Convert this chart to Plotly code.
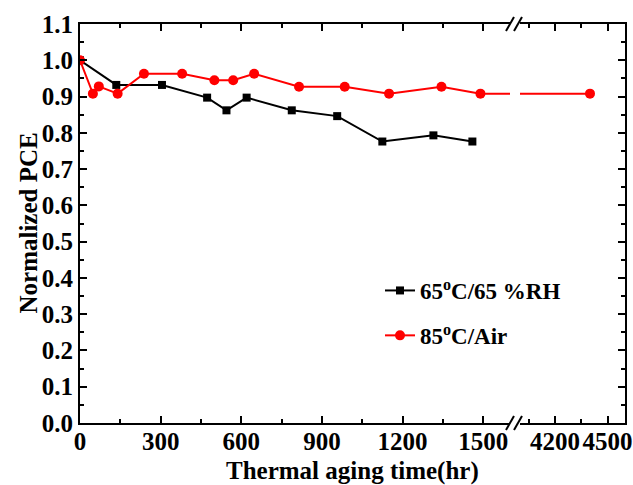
import plotly.graph_objects as go

# ---- data ----
black_x = [0, 135, 305, 473, 545, 620, 788, 957, 1125, 1315, 1460]
black_y = [1.0, 0.932, 0.932, 0.897, 0.862, 0.897, 0.862, 0.846, 0.776, 0.793, 0.776]
red_x = [0, 48, 70, 140, 238, 380, 500, 570, 648, 815, 985, 1150, 1345, 1490, 4400]
red_y = [1.0, 0.908, 0.928, 0.908, 0.963, 0.963, 0.945, 0.945, 0.963, 0.927, 0.927,
         0.908, 0.927, 0.908, 0.908]
names = ["65<sup>o</sup>C/65 %RH", "85<sup>o</sup>C/Air"]
x1_ticks = [0, 300, 600, 900, 1200, 1500]
x2_ticks = [4200, 4500]
y_ticks = [round(i * 0.1, 1) for i in range(12)]

FONT = "Liberation Serif"
W, H = 633, 485
L, R, T, B = 80, 8, 24, 62
pw = W - L - R
ph = H - T - B
seg1_end = (510 - L) / pw
seg2_start = (520 - L) / pw

fig = go.Figure()
fig.add_trace(go.Scatter(x=black_x, y=black_y, mode="lines+markers", name=names[0],
                         line=dict(color="black", width=2),
                         marker=dict(symbol="square", size=8, color="black"),
                         xaxis="x", yaxis="y", legendgroup="a"))
fig.add_trace(go.Scatter(x=red_x, y=red_y, mode="lines+markers", name=names[1],
                         line=dict(color="#ff0000", width=2),
                         marker=dict(symbol="circle", size=10, color="#ff0000"),
                         xaxis="x", yaxis="y", legendgroup="b"))
fig.add_trace(go.Scatter(x=red_x, y=red_y, mode="lines+markers", showlegend=False,
                         line=dict(color="#ff0000", width=2),
                         marker=dict(symbol="circle", size=10, color="#ff0000"),
                         xaxis="x2", yaxis="y2"))

tickfont = dict(family=FONT, size=25, color="black", weight="bold")
common_x = dict(showline=True, linecolor="black", linewidth=2, mirror="ticks",
                ticks="inside", ticklen=7, tickwidth=2, tickcolor="black",
                showgrid=False, zeroline=False, tickfont=tickfont, ticklabelstandoff=-5,
                tickangle=0, automargin=False,
                minor=dict(dtick=150, ticks="inside", ticklen=4, tickwidth=2,
                           tickcolor="black", showgrid=False))
common_y = dict(range=[0, 1.1], showline=True, linecolor="black", linewidth=2,
                ticks="inside", ticklen=7, tickwidth=2, tickcolor="black",
                showgrid=False, zeroline=False, tickfont=tickfont, automargin=False,
                tickvals=y_ticks, ticktext=[f"{v:.1f}" for v in y_ticks],
                minor=dict(dtick=0.05, ticks="inside", ticklen=4, tickwidth=2,
                           tickcolor="black", showgrid=False))

fig.update_layout(
    width=W, height=H, margin=dict(l=L, r=R, t=T, b=B),
    paper_bgcolor="white", plot_bgcolor="white",
    font=dict(family=FONT, size=23, color="black", weight="bold"),
    xaxis=dict(domain=[0, seg1_end], range=[0, 1600], tickvals=x1_ticks,
               anchor="y", **common_x),
    xaxis2=dict(domain=[seg2_start, 1], range=[4000, 4600], tickvals=x2_ticks,
                anchor="y2", **common_x),
    yaxis=dict(anchor="x", mirror=False, **common_y),
    yaxis2=dict(anchor="x2", side="right", matches="y", showticklabels=False,
                mirror=False, **common_y),
    legend=dict(x=(380 - L) / pw, y=1 - (269 - T) / ph, xanchor="left", yanchor="top",
                bgcolor="rgba(0,0,0,0)", tracegroupgap=12,
                font=dict(family=FONT, size=23, color="black", weight="bold")),
    showlegend=True,
)

# axis break marks
def brk(x0, y0):
    return dict(type="line", xref="paper", yref="paper",
                x0=x0, y0=y0, x1=x0 + 8 / pw, y1=y0 + 14 / ph,
                line=dict(color="black", width=2))

for yb in (0 - 7 / ph, 1 - 7 / ph):
    fig.add_shape(brk((506 - L) / pw, yb))
    fig.add_shape(brk((514 - L) / pw, yb))

fig.add_annotation(text="Thermal aging time(hr)", xref="paper", yref="paper",
                   x=0.5, y=-(471 - 423) / ph, xanchor="center", yanchor="middle",
                   showarrow=False, font=dict(family=FONT, size=25, color="black", weight="bold"))
fig.add_annotation(text="Normalized PCE", xref="paper", yref="paper",
                   x=(28 - L) / pw, y=0.5, xanchor="center", yanchor="middle",
                   textangle=-90, showarrow=False,
                   font=dict(family=FONT, size=25, color="black", weight="bold"))

fig.write_html("out.html")
